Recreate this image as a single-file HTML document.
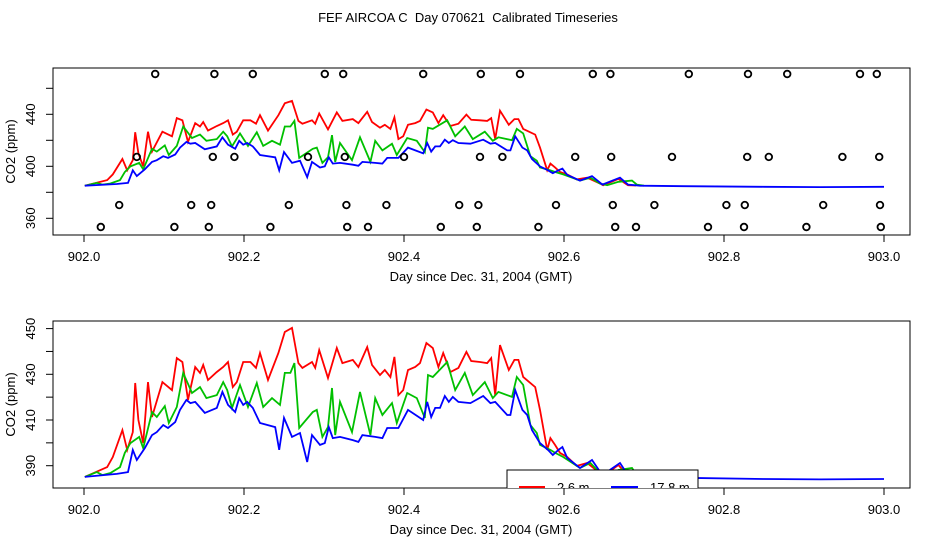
<!DOCTYPE html>
<html><head><meta charset="utf-8"><style>
html,body{margin:0;padding:0;background:#fff;}
svg{display:block;font-family:"Liberation Sans",sans-serif;}
</style></head><body>
<svg id="chart" width="936" height="540" viewBox="0 0 936 540" xmlns="http://www.w3.org/2000/svg">
<rect width="936" height="540" fill="#fff"/>
<text x="468" y="22" text-anchor="middle" font-size="13" style="white-space:pre" xml:space="preserve">FEF AIRCOA C  Day 070621  Calibrated Timeseries</text>
<defs>
<clipPath id="clipTop"><rect x="53" y="68" width="857" height="167"/></clipPath>
<clipPath id="clipBot"><rect x="53" y="321" width="857" height="167"/></clipPath>
</defs>
<g id="top"></g>
<g id="bot"></g>
</svg>
<script>
const redT=[0.001,0.029,0.036,0.048,0.054,0.061,0.064,0.068,0.074,0.080,0.085,0.098,0.110,0.116,0.123,0.130,0.139,0.145,0.149,0.155,0.166,0.174,0.180,0.186,0.191,0.199,0.208,0.215,0.220,0.230,0.243,0.251,0.260,0.268,0.273,0.285,0.289,0.294,0.305,0.316,0.323,0.336,0.343,0.354,0.360,0.370,0.376,0.383,0.388,0.393,0.399,0.405,0.414,0.420,0.428,0.436,0.443,0.449,0.458,0.468,0.478,0.484,0.495,0.504,0.509,0.514,0.520,0.531,0.538,0.543,0.549,0.564,0.570,0.579,0.583,0.589,0.595,0.604,0.616,0.629,0.645,0.649,0.668,0.680,0.690];
const redV=[385.1,389.4,393.8,405.6,396.9,404.7,426.2,410,399.9,426.6,411.3,426.6,423.1,437.1,435.4,418.8,433.2,430.6,434.1,427.5,431,433.2,435.4,424.4,426.6,435.4,435.4,432.8,439.3,427.5,439.3,448.5,450.3,434.9,432.8,435.4,432.8,440.6,428.4,441.5,434.9,436.3,433.2,441.9,434.1,429.7,431.9,428.8,437.6,420.9,423.1,431.9,433.2,434.9,443.7,441.5,433.2,439.3,431,432.8,439.8,435.8,435.4,434.9,437.1,420.9,442.8,431.9,436.3,436.3,428.8,424.4,414.4,396.9,402.1,399,395.6,393.8,389.9,391.2,386.8,385.5,390.3,385.5,385.2];
const greenT=[0.001,0.016,0.023,0.033,0.045,0.051,0.058,0.069,0.074,0.085,0.091,0.101,0.106,0.116,0.124,0.135,0.145,0.153,0.166,0.174,0.179,0.185,0.195,0.205,0.216,0.224,0.235,0.245,0.251,0.258,0.263,0.269,0.286,0.291,0.298,0.305,0.310,0.314,0.320,0.335,0.345,0.358,0.364,0.373,0.385,0.391,0.404,0.416,0.426,0.430,0.436,0.454,0.464,0.476,0.486,0.501,0.511,0.518,0.535,0.541,0.549,0.558,0.566,0.570,0.583,0.589,0.599,0.620,0.633,0.645,0.654,0.668,0.685,0.691,0.700];
const greenV=[385.1,387.2,385.9,386.8,389.4,395.6,399.9,402.6,397.7,413.5,411.3,416.1,408.7,415.7,430.6,421.8,424.4,419.6,420.9,426.6,423.1,415.3,425.3,415.7,426.2,415.7,419.6,416.6,430.6,430.6,434.9,406.5,413.5,414.4,402.6,406.9,424,403.4,417.9,404.7,422.3,403.4,419.6,412.2,417.4,408.7,421.8,419.6,410.9,429.7,428.8,435.4,423.1,430.6,420.9,426.6,419.6,422.3,420.1,428.8,425.3,407.8,404.3,399.1,396.9,395.6,393.8,389,391.2,386.8,385.5,388.1,389,385.9,385.1];
const blueT=[0.001,0.041,0.055,0.061,0.066,0.076,0.085,0.091,0.099,0.105,0.114,0.120,0.128,0.133,0.139,0.151,0.166,0.173,0.180,0.189,0.194,0.199,0.204,0.211,0.220,0.239,0.244,0.250,0.260,0.270,0.279,0.285,0.295,0.301,0.306,0.311,0.320,0.336,0.343,0.348,0.364,0.373,0.379,0.393,0.405,0.424,0.429,0.434,0.439,0.445,0.451,0.456,0.461,0.468,0.483,0.499,0.508,0.514,0.529,0.533,0.539,0.548,0.554,0.560,0.570,0.580,0.586,0.593,0.598,0.604,0.620,0.635,0.648,0.670,0.680,0.695,0.750,0.850,0.920,1.000];
const blueV=[385.1,386.4,387.2,396.9,392.5,397.7,403.4,404.7,407.8,406.5,409.1,414.4,418.8,417.4,417.9,413.1,415.3,422.3,416.6,413.5,419.6,416.6,417.9,415.3,408.7,406.9,396.9,410.9,402.6,404.3,391.6,403.4,399.1,399.9,406.9,402.1,402.6,401.2,400.4,403.4,402.6,402.1,406.5,406.5,414.4,410,417.9,411.3,415.3,415.3,420.5,417.9,420.1,417.9,417.4,420.5,417.4,417.9,412.2,412.2,423.1,414.4,412.2,405.6,399.9,396.9,394.7,396.9,398.2,393.4,389,392.5,385.9,391.2,385.9,385.1,384.7,384.2,384.0,384.2];
const flagRowV=[471,407.2,370.2,353.3];
const flagRow1T=[0.089,0.163,0.211,0.301,0.324,0.424,0.496,0.545,0.636,0.658,0.756,0.830,0.879,0.970,0.991];
const flagRow2T=[0.066,0.161,0.188,0.280,0.326,0.400,0.495,0.523,0.614,0.659,0.735,0.829,0.856,0.948,0.994];
const flagRow3T=[0.044,0.134,0.159,0.256,0.328,0.378,0.469,0.493,0.590,0.661,0.713,0.803,0.826,0.924,0.995];
const flagRow4T=[0.021,0.113,0.156,0.233,0.329,0.355,0.446,0.491,0.568,0.664,0.690,0.780,0.825,0.903,0.996];
const xTicks=[902.0,902.2,902.4,902.6,902.8,903.0];
const topYTicks=[360,380,400,420,440,460];
const topYLabels=[360,400,440];
const botYTicks=[390,400,410,420,430,440,450];
const botYLabels=[390,410,430,450];

const NS="http://www.w3.org/2000/svg";
function mk(tag,attrs,parent){const e=document.createElementNS(NS,tag);for(const k in attrs)e.setAttribute(k,attrs[k]);parent.appendChild(e);return e;}
const xs=t=>84+800*t;
const xd=d=>84+800*(d-902);
function panel(g,top,bottom,ys,yTicks,yLabels,clip,withFlags,withLegend){
  const frame=mk('rect',{x:53,y:top,width:857,height:bottom-top,fill:'none',stroke:'#000','stroke-width':1},g);
  
  
  const cg=mk('g',{'clip-path':'url(#'+clip+')'},g);
  const series=[[redT,redV,'#ff0000','red-2.6m-line'],[greenT,greenV,'#00c000','green-line'],[blueT,blueV,'#0000ff','blue-17.8m-line']];
  series.forEach(s=>{
    const pts=s[0].map((t,i)=>xs(t).toFixed(1)+','+ys(s[1][i]).toFixed(1)).join(' ');
    const pl=mk('polyline',{points:pts,fill:'none',stroke:s[2],'stroke-width':1.8,'stroke-linejoin':'miter'},cg);
    
    
  });
  if(withFlags){
    [flagRow1T,flagRow2T,flagRow3T,flagRow4T].forEach((row,r)=>{
      row.forEach(t=>{
        const c=mk('circle',{cx:xs(t),cy:ys(flagRowV[r]),r:3.3,fill:'none',stroke:'#000','stroke-width':1.8},cg);
        
        
      });
    });
  }
  if(withLegend){
    const lg=mk('g',{},cg);
    
    
    mk('rect',{x:507,y:470,width:191,height:40,fill:'#fff',stroke:'#000','stroke-width':1},lg);
    mk('line',{x1:519,x2:545,y1:487,y2:487,stroke:'#ff0000','stroke-width':2},lg);
    const t1=mk('text',{x:557,y:492,'font-size':13},lg);t1.textContent='2.6 m';
    
    
    mk('line',{x1:611,x2:638,y1:487,y2:487,stroke:'#0000ff','stroke-width':2},lg);
    const t2=mk('text',{x:650,y:492,'font-size':13},lg);t2.textContent='17.8 m';
    
    
  }
  xTicks.forEach(d=>{
    mk('line',{x1:xd(d),x2:xd(d),y1:bottom,y2:bottom+7,stroke:'#000'},g);
    const tx=mk('text',{x:xd(d),y:bottom+26,'text-anchor':'middle','font-size':13},g);
    tx.textContent=d.toFixed(1);
    
    
  });
  yTicks.forEach(v=>{mk('line',{x1:46,x2:53,y1:ys(v),y2:ys(v),stroke:'#000'},g);});
  yLabels.forEach(v=>{
    const tx=mk('text',{x:0,y:0,transform:'translate(35,'+ys(v)+') rotate(-90)','text-anchor':'middle','font-size':13},g);
    tx.textContent=String(v);
    
    
  });
  const xt=mk('text',{x:481,y:bottom+46,'text-anchor':'middle','font-size':13},g);
  xt.textContent='Day since Dec. 31, 2004 (GMT)';
  
  
  const yt=mk('text',{x:0,y:0,transform:'translate(15,'+((top+bottom)/2)+') rotate(-90)','text-anchor':'middle','font-size':13},g);
  yt.textContent='CO2 (ppm)';
  
  
}
panel(document.getElementById('top'),68,235,v=>166.3-(v-400)*1.3,topYTicks,topYLabels,'clipTop',true,false);
panel(document.getElementById('bot'),321,488,v=>420-(v-410)*2.285,botYTicks,botYLabels,'clipBot',false,true);
</script>
</body></html>
